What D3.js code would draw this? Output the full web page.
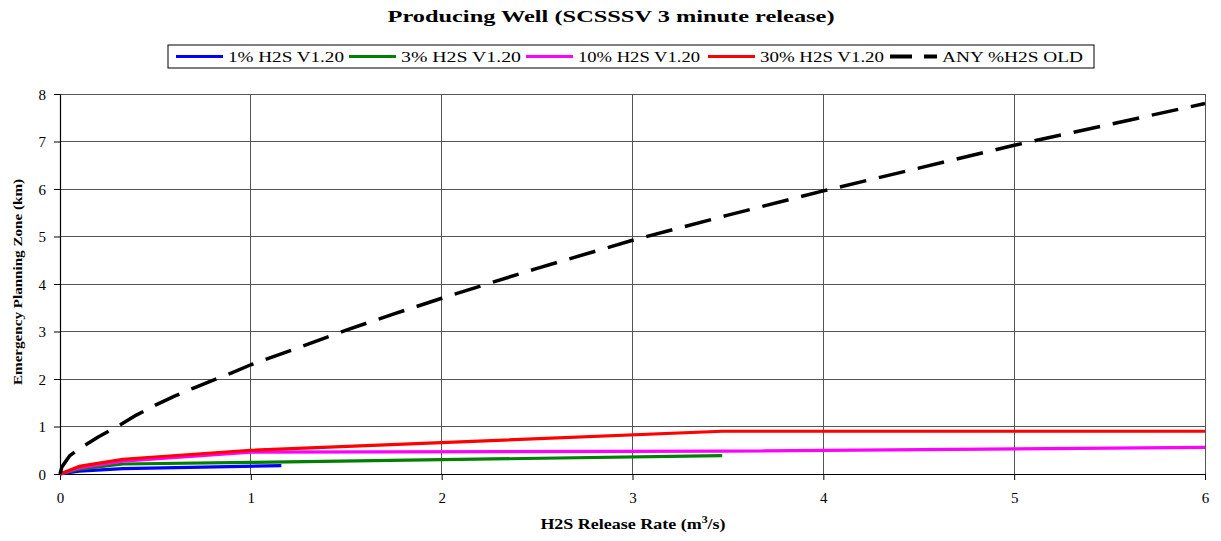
<!DOCTYPE html>
<html><head><meta charset="utf-8">
<script src="https://cdn.jsdelivr.net/npm/d3@7"></script>
<style>
body{margin:0;background:#fff}
text{font-family:"Liberation Serif","Times New Roman",serif;fill:#000}
</style>
</head><body>
<svg id="chart" width="1221" height="541"></svg>
<script>
// ---------------- data ----------------
const chartTitle = "Producing Well (SCSSSV 3 minute release)";
const xAxisTitle = "H2S Release Rate (m";
const yAxisTitle = "Emergency Planning Zone (km)";
const seriesNames = ["1% H2S V1.20", "3% H2S V1.20", "10% H2S V1.20", "30% H2S V1.20", "ANY %H2S OLD"];
const seriesColors = ["#0000ff", "#008000", "#ff00ff", "#ff0000", "#000000"];
const xTicks = [0, 1, 2, 3, 4, 5, 6];
const yTicks = [0, 1, 2, 3, 4, 5, 6, 7, 8];

const rate1 = [0, 0.1, 0.33, 1.16];
const epz1  = [0, 0.06, 0.115, 0.175];
const rate3 = [0, 0.1, 0.33, 1.0, 3.47];
const epz3  = [0, 0.1, 0.21, 0.245, 0.385];
const rate10 = [0, 0.1, 0.33, 1.0, 3.47, 6.0];
const epz10  = [0, 0.13, 0.27, 0.46, 0.48, 0.56];
const rate30 = [0, 0.1, 0.33, 1.0, 3.47, 6.0];
const epz30  = [0, 0.16, 0.31, 0.5, 0.9, 0.9];
const rateOld = [0, 0.01, 0.05, 0.1, 0.2, 0.3, 0.4, 0.5, 0.6, 0.7, 0.8, 0.9, 1.0, 1.25, 1.5, 1.75, 2.0, 2.5, 3.0, 3.5, 4.0, 4.5, 5.0, 5.5, 6.0];
const epzOld  = [0, 0.15, 0.38, 0.53, 0.78, 1.0, 1.24, 1.45, 1.64, 1.81, 1.97, 2.13, 2.3, 2.66, 3.03, 3.37, 3.7, 4.33, 4.92, 5.45, 5.96, 6.44, 6.92, 7.36, 7.8];

const seriesX = [rate1, rate3, rate10, rate30, rateOld];
const seriesY = [epz1, epz3, epz10, epz30, epzOld];

// ---------------- layout ----------------
const svg = d3.select("#chart");
const L = 60, R = 1205, T = 94, B = 474;
const x = d3.scaleLinear().domain([0, 6]).range([L, R]);
const y = d3.scaleLinear().domain([0, 8]).range([B, T]);

// gridlines
const grid = svg.append("g");
grid.selectAll(".hg").data(yTicks.filter(d => d > 0)).join("line")
  .attr("x1", L).attr("x2", R).attr("y1", d => y(d)).attr("y2", d => y(d))
  .attr("stroke", "#555").attr("stroke-width", 1).attr("shape-rendering", "crispEdges");
grid.selectAll(".vg").data(xTicks.filter(d => d > 0)).join("line")
  .attr("y1", T).attr("y2", B).attr("x1", d => x(d)).attr("x2", d => x(d))
  .attr("stroke", "#555").attr("stroke-width", 1).attr("shape-rendering", "crispEdges");

// axes
const xAxis = svg.append("g").attr("transform", `translate(0,${B})`)
  .call(d3.axisBottom(x).tickValues(xTicks).tickFormat(d3.format("d")).tickSize(6).tickSizeOuter(0));
const yAxis = svg.append("g").attr("transform", `translate(${L},0)`)
  .call(d3.axisLeft(y).tickValues(yTicks).tickFormat(d3.format("d")).tickSize(6).tickSizeOuter(0));
[xAxis, yAxis].forEach(a => {
  a.select(".domain").attr("stroke", "#000").attr("stroke-width", 1.2);
  a.selectAll(".tick line").attr("stroke", "#000").attr("stroke-width", 1);
  a.selectAll(".tick text").attr("font-family", "Liberation Serif, serif").attr("font-size", 15).attr("fill", "#000");
});
xAxis.selectAll(".tick text").attr("dy", 0).attr("y", 29);
yAxis.selectAll(".tick text").attr("x", -14).attr("dy", "0.35em");

// series
const line = d3.line().x(d => x(d[0])).y(d => y(d[1]));
seriesNames.forEach((name, i) => {
  const pts = seriesX[i].map((v, j) => [v, seriesY[i][j]]);
  const p = svg.append("path").datum(pts).attr("d", line)
    .attr("fill", "none").attr("stroke", seriesColors[i])
    .attr("stroke-linejoin", "round");
  if (i === 4) p.attr("stroke-width", 3.5).attr("stroke-dasharray", "27,13");
  else p.attr("stroke-width", 3.2);
});

// title
svg.append("text").attr("x", 611).attr("y", 22).attr("text-anchor", "middle")
  .attr("font-size", 17).attr("font-weight", "bold")
  .attr("textLength", 447).attr("lengthAdjust", "spacingAndGlyphs").text(chartTitle);

// axis titles
const xt = svg.append("text").attr("transform", "translate(633,529) scale(1.2,1)").attr("text-anchor", "middle")
  .attr("font-size", 15).attr("font-weight", "bold");
xt.append("tspan").text(xAxisTitle);
xt.append("tspan").attr("font-size", 10).attr("dy", -6).text("3");
xt.append("tspan").attr("dy", 6).text("/s)");

svg.append("text").attr("transform", "translate(22,282) rotate(-90)").attr("text-anchor", "middle")
  .attr("font-size", 13).attr("font-weight", "bold")
  .attr("textLength", 206).attr("lengthAdjust", "spacingAndGlyphs").text(yAxisTitle);

// legend
const lg = svg.append("g");
lg.append("rect").attr("x", 168).attr("y", 45).attr("width", 926).attr("height", 23)
  .attr("fill", "#fff").attr("stroke", "#000").attr("stroke-width", 1);
const legendStarts = [176, 349, 526, 708, 890];
const legendTextW = [116, 120, 122, 124, 141];
seriesNames.forEach((name, i) => {
  const sx = legendStarts[i];
  const l = lg.append("line").attr("x1", sx).attr("x2", sx + 47).attr("y1", 56.5).attr("y2", 56.5)
    .attr("stroke", seriesColors[i]);
  if (i === 4) l.attr("stroke-width", 4).attr("stroke-dasharray", "22,12");
  else l.attr("stroke-width", 3.2);
  lg.append("text").attr("x", sx + 52).attr("y", 61.5).attr("font-size", 14)
    .attr("textLength", legendTextW[i]).attr("lengthAdjust", "spacingAndGlyphs").text(name);
});
</script>
</body></html>
